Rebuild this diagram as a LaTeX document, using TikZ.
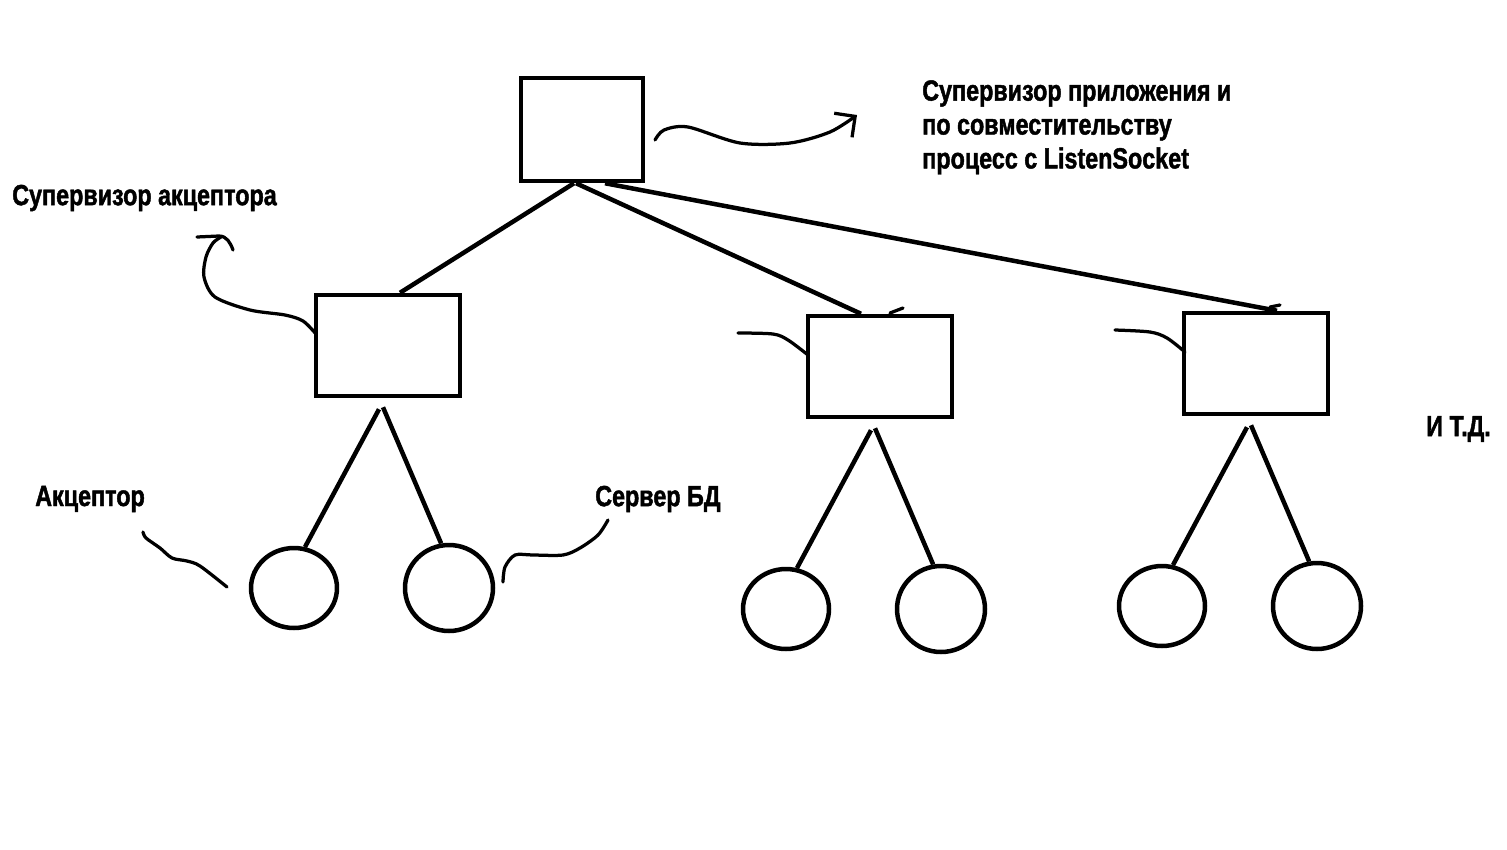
\documentclass[tikz,border=0pt]{standalone}
\usepackage{fontspec}
\setmainfont{Liberation Sans}[FakeStretch=0.8, FakeBold=1.5]
\usetikzlibrary{shapes.geometric,arrows.meta,calc}

\begin{document}
\begin{tikzpicture}[x=0.02cm, y=-0.02cm, line width=0.09cm,
    every node/.style={font=\fontsize{16.6}{19.3}\selectfont\bfseries},
    boxnode/.style={draw, rectangle, inner sep=0pt, minimum width=2.88cm, minimum height=2.02cm},
    leafsmall/.style={draw, ellipse, inner sep=0pt, minimum width=1.72cm, minimum height=1.6cm},
    leafbig/.style={draw, ellipse, inner sep=0pt, minimum width=1.76cm, minimum height=1.72cm},
    note/.style={inner sep=0pt, anchor=west},
    squiggle/.style={line width=0.065cm, line cap=round, line join=round}]
    \useasboundingbox[fill=white] (0,0) rectangle (1507,849);

    \node[boxnode, minimum width=2.44cm, minimum height=2.06cm] (top) at (582,129.5) {};
    \node[boxnode] (supA) at (388,345.5) {};
    \node[boxnode] (supB) at (880,366.5) {};
    \node[boxnode] (supC) at (1256,363.5) {};

    \draw ($(top.south)+(-8,0)$) -- ($(supA.north)+(12,0)$);
    \draw ($(top.south)+(-6,0)$) -- ($(supB.north)+(-19,0)$);
    \draw ($(top.south)+(23,0)$) -- ($(supC.north)+(21,0)$);

    \foreach \s/\x/\y in {A/294/588, B/786/609, C/1162/606}{
        \node[leafsmall] (acc\s) at (\x,\y) {};
        \node[leafbig] (db\s) at (\x+155,\y) {};
        \draw ($(sup\s.south)+(-9,11)$) -- (acc\s.75);
        \draw ($(sup\s.south)+(-5,9)$) -- (db\s.100);
    }

    \node[note, anchor=north west, align=left] (appnote) at (920,78)
        {Супервизор приложения и\\по совместительству\\процесс с ListenSocket};
    \node[note] (supnote) at (10,198) {Супервизор акцептора};
    \node[note] (accnote) at (33,499) {Акцептор};
    \node[note] (dbnote) at (593,499) {Сервер БД};
    \node[note] (etc) at (1424,429) {И Т.Д.};

    \draw[squiggle, -{Straight Barb[length=0.3cm, width=0.6cm]}] plot[smooth] coordinates
        {(655,140) (664,130) (688,127) (740,143) (790,143) (830,132) (857,115)};
    \draw[squiggle] plot[smooth] coordinates
        {(316,334) (303,321) (285,315) (250,310) (215,297) (204,277) (206,257) (213,243) (221,237)};
    \draw[squiggle] (197,237) -- (219,236) to[out=0, in=110] (233,250);
    \draw[squiggle] plot[smooth] coordinates {(738,333) (773,334) (788,340) (808,355)};
    \draw[squiggle] (890,313) -- (903,308);
    \draw[squiggle] plot[smooth] coordinates {(1115,330) (1150,332) (1167,338) (1185,352)};
    \draw[squiggle] (1270,307) -- (1280,305);
    \draw[squiggle] plot[smooth] coordinates
        {(143,532) (146,538) (160,548) (172,558) (187,561) (200,566) (227,587)};
    \draw[squiggle] plot[smooth] coordinates
        {(608,520) (598,535) (580,548) (563,555) (533,555) (515,555) (505,567) (503,582)};
\end{tikzpicture}
\end{document}
